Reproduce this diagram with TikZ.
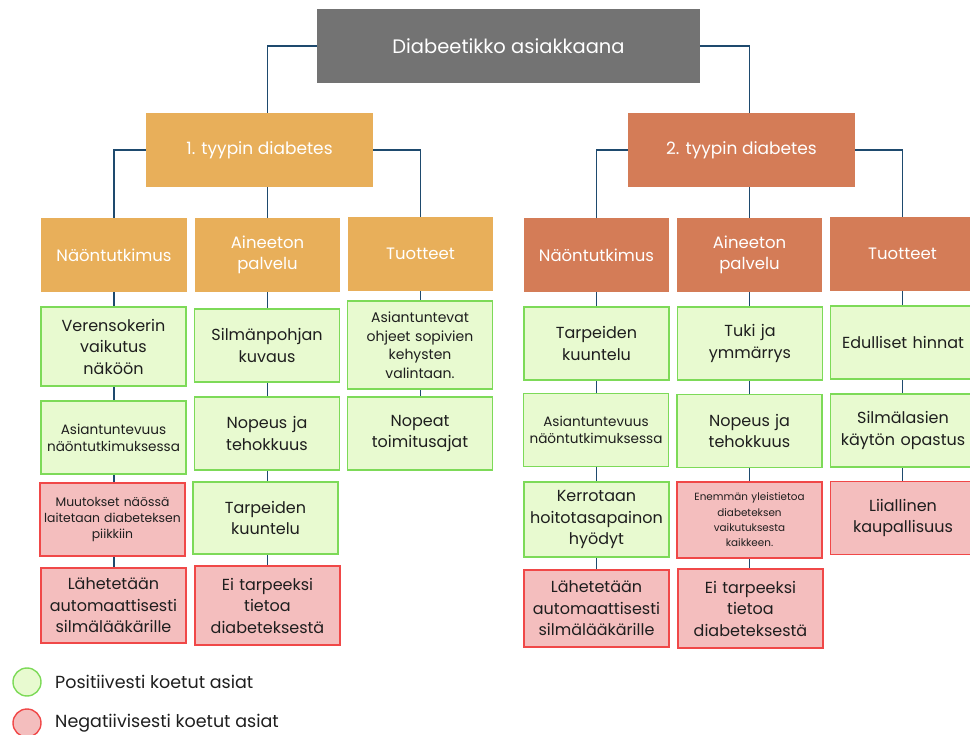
\documentclass[tikz,border=0pt]{standalone}
\usepackage{fontspec}
\setmainfont{Poppins}
\usetikzlibrary{positioning, backgrounds}
\definecolor{rootgray}{RGB}{115, 115, 115}
\definecolor{typeone}{RGB}{232, 175, 90}
\definecolor{typetwo}{RGB}{212, 124, 87}
\definecolor{linkblue}{RGB}{30, 74, 110}
\definecolor{posline}{RGB}{125, 218, 88}
\definecolor{posfill}{RGB}{232, 250, 208}
\definecolor{negline}{RGB}{240, 72, 72}
\definecolor{negfill}{RGB}{244, 190, 190}
\definecolor{inktext}{RGB}{30, 30, 30}

\tikzset{
  link/.style={draw=linkblue, line width=1.8pt},
  headbox/.style={text=white, align=center, minimum width=145, minimum height=74, inner sep=2pt, font=\fontsize{16.5}{21.5}\selectfont},
  posbox/.style={draw=posline, fill=posfill, line width=1.8pt, text=inktext, align=center, text width=144, minimum width=145, minimum height=73, inner sep=0.5pt, font=\fontsize{16}{21.5}\selectfont},
  negbox/.style={posbox, draw=negline, fill=negfill},
  smalltext/.style={font=\fontsize{13.6}{16.8}\selectfont},
  legdot/.style={circle, line width=1.4pt, minimum size=28, inner sep=0pt},
  legtext/.style={text=inktext, font=\fontsize{17.5}{19}\selectfont}
}

\begin{document}
\begin{tikzpicture}[x=1pt, y=-1pt]
  \useasboundingbox (0,0) rectangle (970,735);

  % Root
  \node[headbox, fill=rootgray, minimum width=383, font=\fontsize{19.5}{22}\selectfont] (root) at (508.5, 46) {Diabeetikko asiakkaana};

  % Diabetes types
  \node[headbox, fill=typeone, minimum width=227, font=\fontsize{17}{20}\selectfont] (t1) at (259.5, 150) {1. tyypin diabetes};
  \node[headbox, fill=typetwo, minimum width=227, font=\fontsize{17}{20}\selectfont] (t2) at (741.5, 150) {2. tyypin diabetes};

  % Categories, type 1
  \node[headbox, fill=typeone, minimum width=146] (n1) at (114, 255) {Näöntutkimus};
  \node[headbox, fill=typeone] (a1) at (267.5, 255) {Aineeton\\palvelu};
  \node[headbox, fill=typeone] (u1) at (420.5, 254) {Tuotteet};

  % Categories, type 2
  \node[headbox, fill=typetwo] (n2) at (596.5, 255) {Näöntutkimus};
  \node[headbox, fill=typetwo] (a2) at (749.5, 255) {Aineeton\\palvelu};
  \node[headbox, fill=typetwo] (u2) at (902.5, 254) {Tuotteet};

  % Type 1, Näöntutkimus
  \node[posbox, minimum height=79] (v1) at (113.5, 346.5) {Verensokerin\\vaikutus\\näköön};
  \node[posbox, smalltext] (v2) at (113.5, 437.5) {Asiantuntevuus\\näöntutkimuksessa};
  \node[negbox, font=\fontsize{12.4}{15.6}\selectfont] (v3) at (112.5, 519.5) {Muutokset näössä\\laitetaan diabeteksen\\piikkiin};
  \node[negbox, minimum height=75] (v4) at (113.5, 605.5) {Lähetetään\\automaattisesti\\silmälääkärille};

  % Type 1, Aineeton palvelu
  \node[posbox] (s1) at (267, 345.5) {Silmänpohjan\\kuvaus};
  \node[posbox] (s2) at (267, 433.5) {Nopeus ja\\tehokkuus};
  \node[posbox, minimum height=72] (s3) at (265.5, 518) {Tarpeiden\\kuuntelu};
  \node[negbox, minimum height=79] (s4) at (267.5, 605.5) {Ei tarpeeksi\\tietoa\\diabeteksestä};

  % Type 1, Tuotteet
  \node[posbox, minimum height=88, font=\fontsize{14}{18.5}\selectfont] (k1) at (420, 345) {Asiantuntevat\\ohjeet sopivien\\kehysten\\valintaan.};
  \node[posbox] (k2) at (420, 433.5) {Nopeat\\toimitusajat};

  % Type 2, Näöntutkimus
  \node[posbox] (w1) at (596.5, 343.5) {Tarpeiden\\kuuntelu};
  \node[posbox, smalltext] (w2) at (596, 430) {Asiantuntevuus\\näöntutkimuksessa};
  \node[posbox, minimum height=75] (w3) at (596.5, 519.5) {Kerrotaan\\hoitotasapainon\\hyödyt};
  \node[negbox, minimum height=77] (w4) at (596.5, 608.5) {Lähetetään\\automaattisesti\\silmälääkärille};

  % Type 2, Aineeton palvelu
  \node[posbox] (y1) at (750, 343.5) {Tuki ja\\ymmärrys};
  \node[posbox] (y2) at (749.5, 431) {Nopeus ja\\tehokkuus};
  \node[negbox, minimum height=76, font=\fontsize{10.4}{15.3}\selectfont] (y3) at (749.5, 520) {Enemmän yleistietoa\\diabeteksen\\vaikutuksesta\\kaikkeen.};
  \node[negbox, minimum height=79] (y4) at (750.5, 608.5) {Ei tarpeeksi\\tietoa\\diabeteksestä};

  % Type 2, Tuotteet
  \node[posbox] (z1) at (903, 342.5) {Edulliset hinnat};
  \node[posbox] (z2) at (903, 430.5) {Silmälasien\\käytön opastus};
  \node[negbox] (z3) at (903, 518) {Liiallinen\\kaupallisuus};

  % Connectors
  \begin{scope}[on background layer]
    \draw[link] (root.west) -| (a1.north);
    \draw[link] (root.east) -| (a2.north);
    \draw[link] (t1.west) -| (n1.north);
    \draw[link] (t1.east) -| (u1.north);
    \draw[link] (t2.west) -| (n2.north);
    \draw[link] (t2.east) -| (u2.north);
    \draw[link] (n1.center) -- (n1.center |- v4.center);
    \draw[link] (a1.center) -- (a1.center |- s4.center);
    \draw[link] (u1.center) -- (u1.center |- k2.center);
    \draw[link] (n2.center) -- (n2.center |- w4.center);
    \draw[link] (a2.center) -- (a2.center |- y4.center);
    \draw[link] (u2.center) -- (u2.center |- z3.center);
  \end{scope}

  % Legend
  \node[legdot, draw=posline, fill=posfill] (legpos) at (27, 682) {};
  \node[legdot, draw=negline, fill=negfill] (legneg) at (27, 723) {};
  \node[right=10 of legpos, legtext] (legpostext) {Positiivesti koetut asiat};
  \node[right=10 of legneg, legtext] (legnegtext) {Negatiivisesti koetut asiat};
\end{tikzpicture}
\end{document}
